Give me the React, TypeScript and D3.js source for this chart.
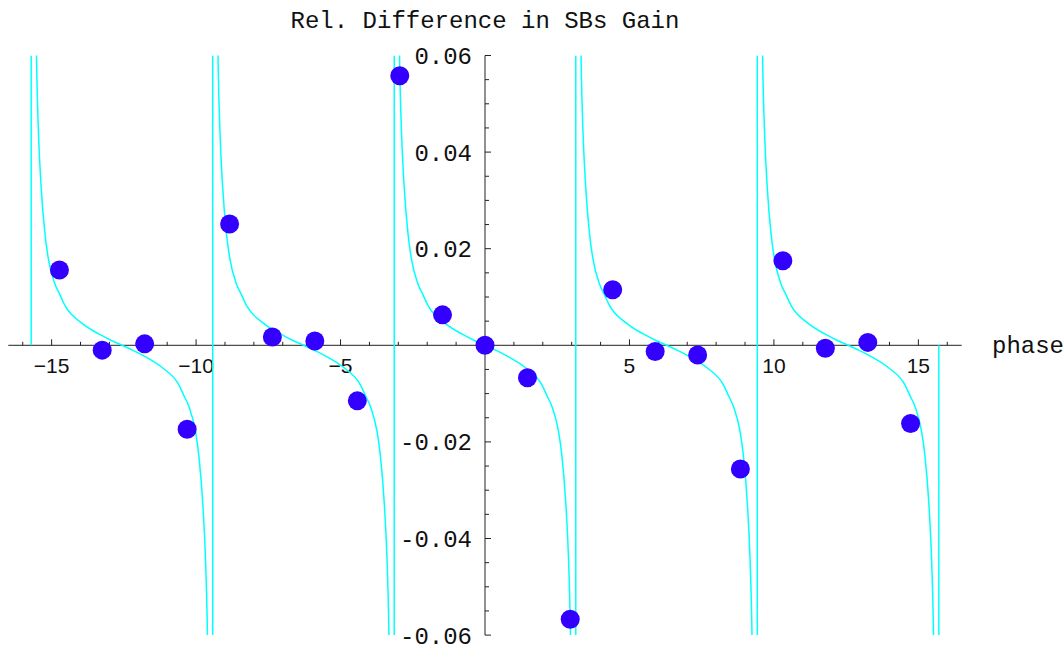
import { useEffect, useRef } from 'react'
import * as d3 from 'd3'

// measured points (phase, rel. difference)
const phases = [-14.73, -13.25, -11.78, -10.31, -8.84, -7.36, -5.89, -4.42, -2.95, -1.47, 0,
  1.47, 2.95, 4.42, 5.89, 7.36, 8.84, 10.31, 11.78, 13.25, 14.73]
const relDiff = [0.0156, -0.001, 0.0003, -0.0174, 0.0251, 0.0017, 0.0009, -0.0115, 0.0558, 0.0063, 0,
  -0.0067, -0.0567, 0.0115, -0.0013, -0.002, -0.0256, 0.0175, -0.0006, 0.0006, -0.0162]

// theory curve: one branch (offset from branch centre, value)
const branchOffsets = [-3.06, -3.0, -2.95, -2.89, -2.8, -2.66, -2.55, -2.32, -2.15, -1.97, -1.39, -0.82, -0.4, 0,
  0.4, 0.82, 1.39, 1.97, 2.15, 2.32, 2.55, 2.66, 2.8, 2.89, 2.95, 3.0, 3.06]
const branchValues = [0.13, 0.078, 0.057, 0.044, 0.033, 0.0228, 0.018, 0.0127, 0.0105, 0.0082, 0.0046, 0.0024, 0.0011, 0,
  -0.0011, -0.0024, -0.0046, -0.0082, -0.0105, -0.0127, -0.018, -0.0228, -0.033, -0.044, -0.057, -0.078, -0.13]
const branchCentres = [-12.566, -6.283, 0, 6.283, 12.566]
const branchLimits = [[-15.708, -9.425], [-9.425, -3.142], [-3.142, 3.142], [3.142, 9.425], [9.425, 15.708]]

// vertical jumps at the poles
const poleX = [-15.708, -9.425, -3.142, 3.142, 9.425, 15.708]
const poleLow = [0, -0.06, -0.06, -0.06, -0.06, -0.06]
const poleHigh = [0.06, 0.06, 0.06, 0.06, 0.06, 0]

const xMajor = [-15, -10, -5, 5, 10, 15]
const yMajor = [-0.06, -0.04, -0.02, 0.02, 0.04, 0.06]

const W = 1064
const H = 646

export default function App() {
  const ref = useRef<SVGSVGElement | null>(null)

  useEffect(() => {
    const svg = d3.select(ref.current)
    svg.selectAll('*').remove()

    const x = d3.scaleLinear().domain([-16.5, 16.5]).range([8.3, 961.7])
    const y = d3.scaleLinear().domain([-0.06, 0.06]).range([635.1, 55.5])
    const axisColor = '#222'
    const mono = '"Liberation Mono", "Courier New", monospace'
    const sans = '"Liberation Sans", Arial, sans-serif'

    svg.append('defs').append('clipPath').attr('id', 'plotclip')
      .append('rect').attr('x', 0).attr('y', y(0.06)).attr('width', W).attr('height', y(-0.06) - y(0.06))

    // axes
    svg.append('line').attr('x1', x(-16.5)).attr('x2', x(16.5)).attr('y1', y(0)).attr('y2', y(0))
      .attr('stroke', axisColor).attr('stroke-width', 1)
    svg.append('line').attr('x1', x(0)).attr('x2', x(0)).attr('y1', y(-0.06)).attr('y2', y(0.06))
      .attr('stroke', axisColor).attr('stroke-width', 1)

    // x ticks point up
    d3.range(-16, 17).forEach((t) => {
      if (t === 0) return
      const major = t % 5 === 0
      svg.append('line').attr('x1', x(t)).attr('x2', x(t))
        .attr('y1', y(0)).attr('y2', y(0) - (major ? 6 : 3.5))
        .attr('stroke', axisColor).attr('stroke-width', 1)
    })
    xMajor.forEach((t) => {
      svg.append('text').attr('x', x(t)).attr('y', y(0) + 28)
        .attr('text-anchor', 'middle').attr('font-family', sans).attr('font-size', 21)
        .attr('fill', '#111').text(t < 0 ? `\u2212${Math.abs(t)}` : String(t))
    })

    // y ticks point right
    d3.range(-12, 13).forEach((k) => {
      if (k === 0) return
      const major = k % 4 === 0
      const v = k * 0.005
      svg.append('line').attr('x1', x(0)).attr('x2', x(0) + (major ? 6 : 4))
        .attr('y1', y(v)).attr('y2', y(v))
        .attr('stroke', axisColor).attr('stroke-width', 1)
    })
    yMajor.forEach((t) => {
      svg.append('text').attr('x', x(0) - 13).attr('y', y(t)).attr('dy', '0.35em')
        .attr('text-anchor', 'end').attr('font-family', mono).attr('font-size', 24)
        .attr('fill', '#111').text((t < 0 ? '-' : '') + Math.abs(t).toFixed(2))
    })

    svg.append('text').attr('x', 992).attr('y', y(0) + 8)
      .attr('font-family', mono).attr('font-size', 24).attr('fill', '#111').text('phase')
    svg.append('text').attr('x', x(0)).attr('y', 28).attr('text-anchor', 'middle')
      .attr('font-family', mono).attr('font-size', 24).attr('fill', '#111').text('Rel. Difference in SBs Gain')

    // theory curve
    const curveG = svg.append('g').attr('clip-path', 'url(#plotclip)')
    const line = d3.line<[number, number]>().x((d) => x(d[0])).y((d) => y(d[1])).curve(d3.curveMonotoneX)
    branchCentres.forEach((c, i) => {
      const [lo, hi] = branchLimits[i]
      const pts: [number, number][] = branchOffsets
        .map((u, j) => [c + u, branchValues[j]] as [number, number])
        .filter((p) => p[0] > lo && p[0] < hi)
      curveG.append('path').attr('d', line(pts)).attr('fill', 'none')
        .attr('stroke', '#00ffff').attr('stroke-width', 1.5)
    })
    poleX.forEach((px, i) => {
      curveG.append('line').attr('x1', x(px)).attr('x2', x(px))
        .attr('y1', y(poleLow[i])).attr('y2', y(poleHigh[i]))
        .attr('stroke', '#00ffff').attr('stroke-width', 1.5)
    })

    // data points
    svg.append('g').selectAll('circle').data(phases).enter().append('circle')
      .attr('cx', (d) => x(d)).attr('cy', (_d, i) => y(relDiff[i])).attr('r', 9.5)
      .attr('fill', '#3300ff')
  }, [])

  return <svg ref={ref} width={W} height={H} style={{ position: 'absolute', left: 0, top: 0, background: '#fff' }} />
}
